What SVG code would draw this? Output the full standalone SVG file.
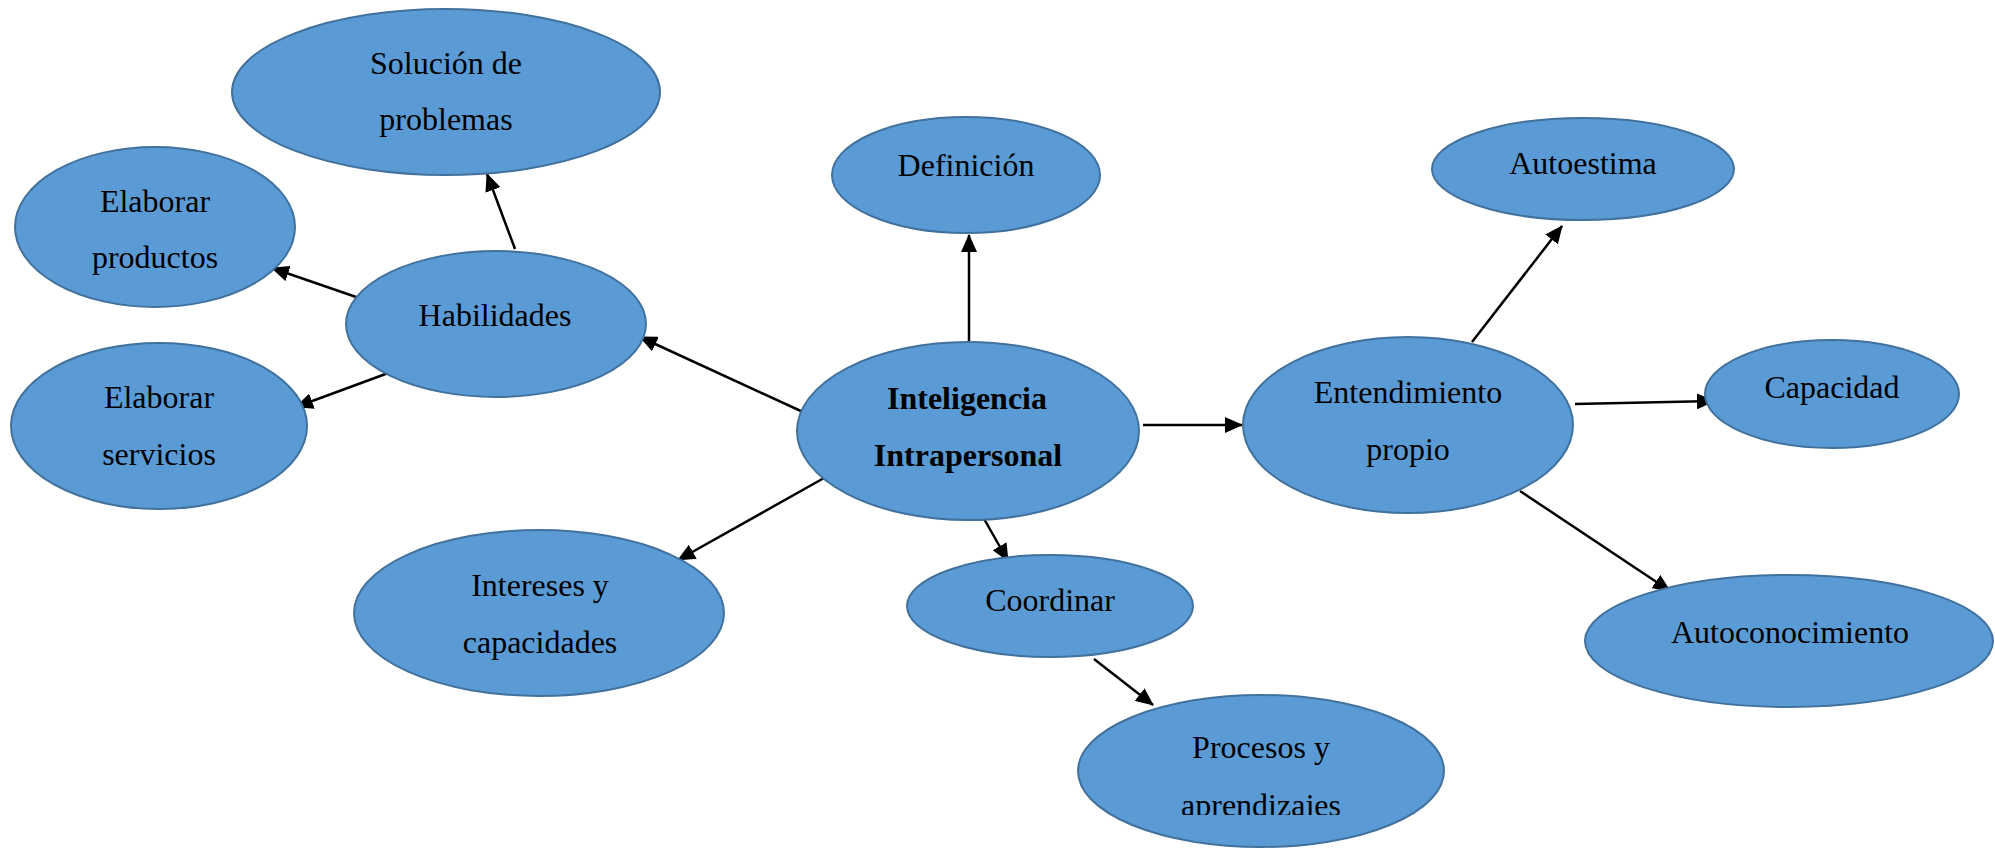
<svg xmlns="http://www.w3.org/2000/svg" width="1995" height="848" viewBox="0 0 1995 848">
  <style>
    .node ellipse { fill: #5B9BD5; stroke: #41719C; stroke-width: 2; }
    .node text { font-family: "Liberation Serif", "Times New Roman", serif; font-size: 32px; fill: #000; text-anchor: middle; }
    .node text.bold { font-weight: bold; }
    #connectors line { stroke: #000; stroke-width: 2.5; marker-end: url(#arrow); }
  </style>
  <defs>
    <marker id="arrow" markerUnits="userSpaceOnUse" markerWidth="18" markerHeight="16" viewBox="0 0 18 16" refX="17" refY="8" orient="auto">
      <path d="M0,0 L18,8 L0,16 Z" fill="#000"/>
    </marker>
    <clipPath id="clipProcesos">
      <rect x="1078" y="695" width="366" height="120"/>
    </clipPath>
  </defs>
  <rect width="1995" height="848" fill="#fff"/>

  <!-- connectors -->
  <g id="connectors">
    <line x1="515" y1="249" x2="487" y2="174"/>
    <line x1="359" y1="298" x2="272" y2="268"/>
    <line x1="391" y1="372" x2="296" y2="407"/>
    <line x1="803" y1="412" x2="640" y2="337"/>
    <line x1="969" y1="341" x2="969" y2="235"/>
    <line x1="1143" y1="425" x2="1242" y2="425"/>
    <line x1="824" y1="478" x2="678" y2="560"/>
    <line x1="983" y1="517" x2="1008" y2="561"/>
    <line x1="1094" y1="659" x2="1153" y2="705"/>
    <line x1="1472" y1="342" x2="1562" y2="226"/>
    <line x1="1575" y1="404" x2="1714" y2="401"/>
    <line x1="1520" y1="491" x2="1670" y2="591"/>
  </g>

  <!-- nodes -->
  <g id="solucion" class="node">
    <ellipse cx="446" cy="92" rx="214" ry="83"/>
    <text x="446" y="74">Solución de</text>
    <text x="446" y="130">problemas</text>
  </g>
  <g id="definicion" class="node">
    <ellipse cx="966" cy="175" rx="134" ry="58"/>
    <text x="966" y="176">Definición</text>
  </g>
  <g id="autoestima" class="node">
    <ellipse cx="1583" cy="169" rx="151" ry="51"/>
    <text x="1583" y="174">Autoestima</text>
  </g>
  <g id="elaborar-productos" class="node">
    <ellipse cx="155" cy="227" rx="140" ry="80"/>
    <text x="155" y="212">Elaborar</text>
    <text x="155" y="268">productos</text>
  </g>
  <g id="habilidades" class="node">
    <ellipse cx="496" cy="324" rx="150" ry="73"/>
    <text x="495" y="326">Habilidades</text>
  </g>
  <g id="elaborar-servicios" class="node">
    <ellipse cx="159" cy="426" rx="148" ry="83"/>
    <text x="159" y="408">Elaborar</text>
    <text x="159" y="465">servicios</text>
  </g>
  <g id="inteligencia" class="node">
    <ellipse cx="968" cy="431" rx="171" ry="89"/>
    <text class="bold" x="967" y="409">Inteligencia</text>
    <text class="bold" x="968" y="466">Intrapersonal</text>
  </g>
  <g id="entendimiento" class="node">
    <ellipse cx="1408" cy="425" rx="165" ry="88"/>
    <text x="1408" y="403">Entendimiento</text>
    <text x="1408" y="460">propio</text>
  </g>
  <g id="capacidad" class="node">
    <ellipse cx="1832" cy="394" rx="127" ry="54"/>
    <text x="1832" y="398">Capacidad</text>
  </g>
  <g id="intereses" class="node">
    <ellipse cx="539" cy="613" rx="185" ry="83"/>
    <text x="540" y="596">Intereses y</text>
    <text x="540" y="653">capacidades</text>
  </g>
  <g id="coordinar" class="node">
    <ellipse cx="1050" cy="606" rx="143" ry="51"/>
    <text x="1050" y="611">Coordinar</text>
  </g>
  <g id="autoconocimiento" class="node">
    <ellipse cx="1789" cy="641" rx="204" ry="66"/>
    <text x="1790" y="643">Autoconocimiento</text>
  </g>
  <g id="procesos" class="node">
    <ellipse cx="1261" cy="771" rx="183" ry="76"/>
    <g clip-path="url(#clipProcesos)">
      <text x="1261" y="758">Procesos y</text>
      <text x="1261" y="816">aprendizajes</text>
    </g>
  </g>
</svg>
